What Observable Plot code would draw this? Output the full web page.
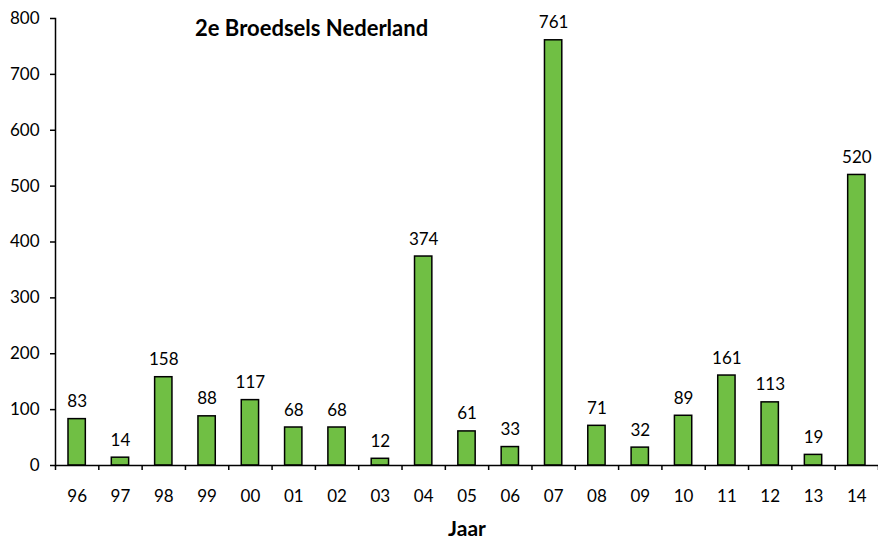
<!DOCTYPE html>
<html>
<head>
<meta charset="utf-8">
<script src="https://cdn.jsdelivr.net/npm/d3@7"></script>
<script src="https://cdn.jsdelivr.net/npm/@observablehq/plot@0.6"></script>
<style>
  html, body { margin: 0; padding: 0; background: #fff; }
  #wrap { position: relative; width: 878px; height: 541px; }
  #title { position: absolute; left: 195px; top: 15px; font: bold 22px Lato, sans-serif; color: #000; white-space: nowrap; line-height: 1.2; }
</style>
</head>
<body>
<div id="wrap"><div id="title">2e Broedsels Nederland</div></div>
<script>
const years = ["96","97","98","99","00","01","02","03","04","05","06","07","08","09","10","11","12","13","14"];
const counts = [83,14,158,88,117,68,68,12,374,61,33,761,71,32,89,161,113,19,520];
const yTicks = [0,100,200,300,400,500,600,700,800];

const data = years.map((y, i) => ({year: y, i, count: counts[i]}));
const boundaries = d3.range(0, years.length + 1);
const centers = years.map((_, i) => i + 0.5);

const chart = Plot.plot({
  width: 878,
  height: 541,
  marginLeft: 55,
  marginRight: 0,
  marginTop: 18,
  marginBottom: 76,
  style: {fontFamily: "Lato, sans-serif", fontSize: "17px", color: "#000", background: "#fff"},
  x: {domain: [0, years.length], axis: null},
  y: {domain: [0, 800], axis: null},
  marks: [
    Plot.rectY(data, {x1: d => d.i + 0.3, x2: d => d.i + 0.7, y: "count", fill: "#70bf44", stroke: "#000", strokeWidth: 1.5}),
    Plot.text(data, {x: d => d.i + 0.5, y: "count", text: d => String(d.count), lineAnchor: "bottom", dy: -12, fontSize: 17}),
    Plot.axisY({ticks: yTicks, tickSize: 5, tickPadding: 11, tickFormat: d => String(d), label: null, strokeWidth: 1.5}),
    Plot.frame({anchor: "left", strokeWidth: 1.5}),
    Plot.ruleY([0], {strokeWidth: 1.5}),
    Plot.axisX({ticks: boundaries, tickSize: 5, tickFormat: () => "", label: null, strokeWidth: 1.5}),
    Plot.axisX({ticks: centers, tickSize: 0, tickPadding: 24, tickFormat: d => years[Math.round(d - 0.5)], label: "Jaar", labelAnchor: "center", labelArrow: "none", labelOffset: 70, fontWeight: "normal"})
  ]
});
document.getElementById("wrap").prepend(chart);
chart.querySelectorAll("text").forEach(t => { if (t.textContent === "Jaar") { t.style.fontWeight = "bold"; t.style.fontSize = "21px"; } });
</script>
</body>
</html>
